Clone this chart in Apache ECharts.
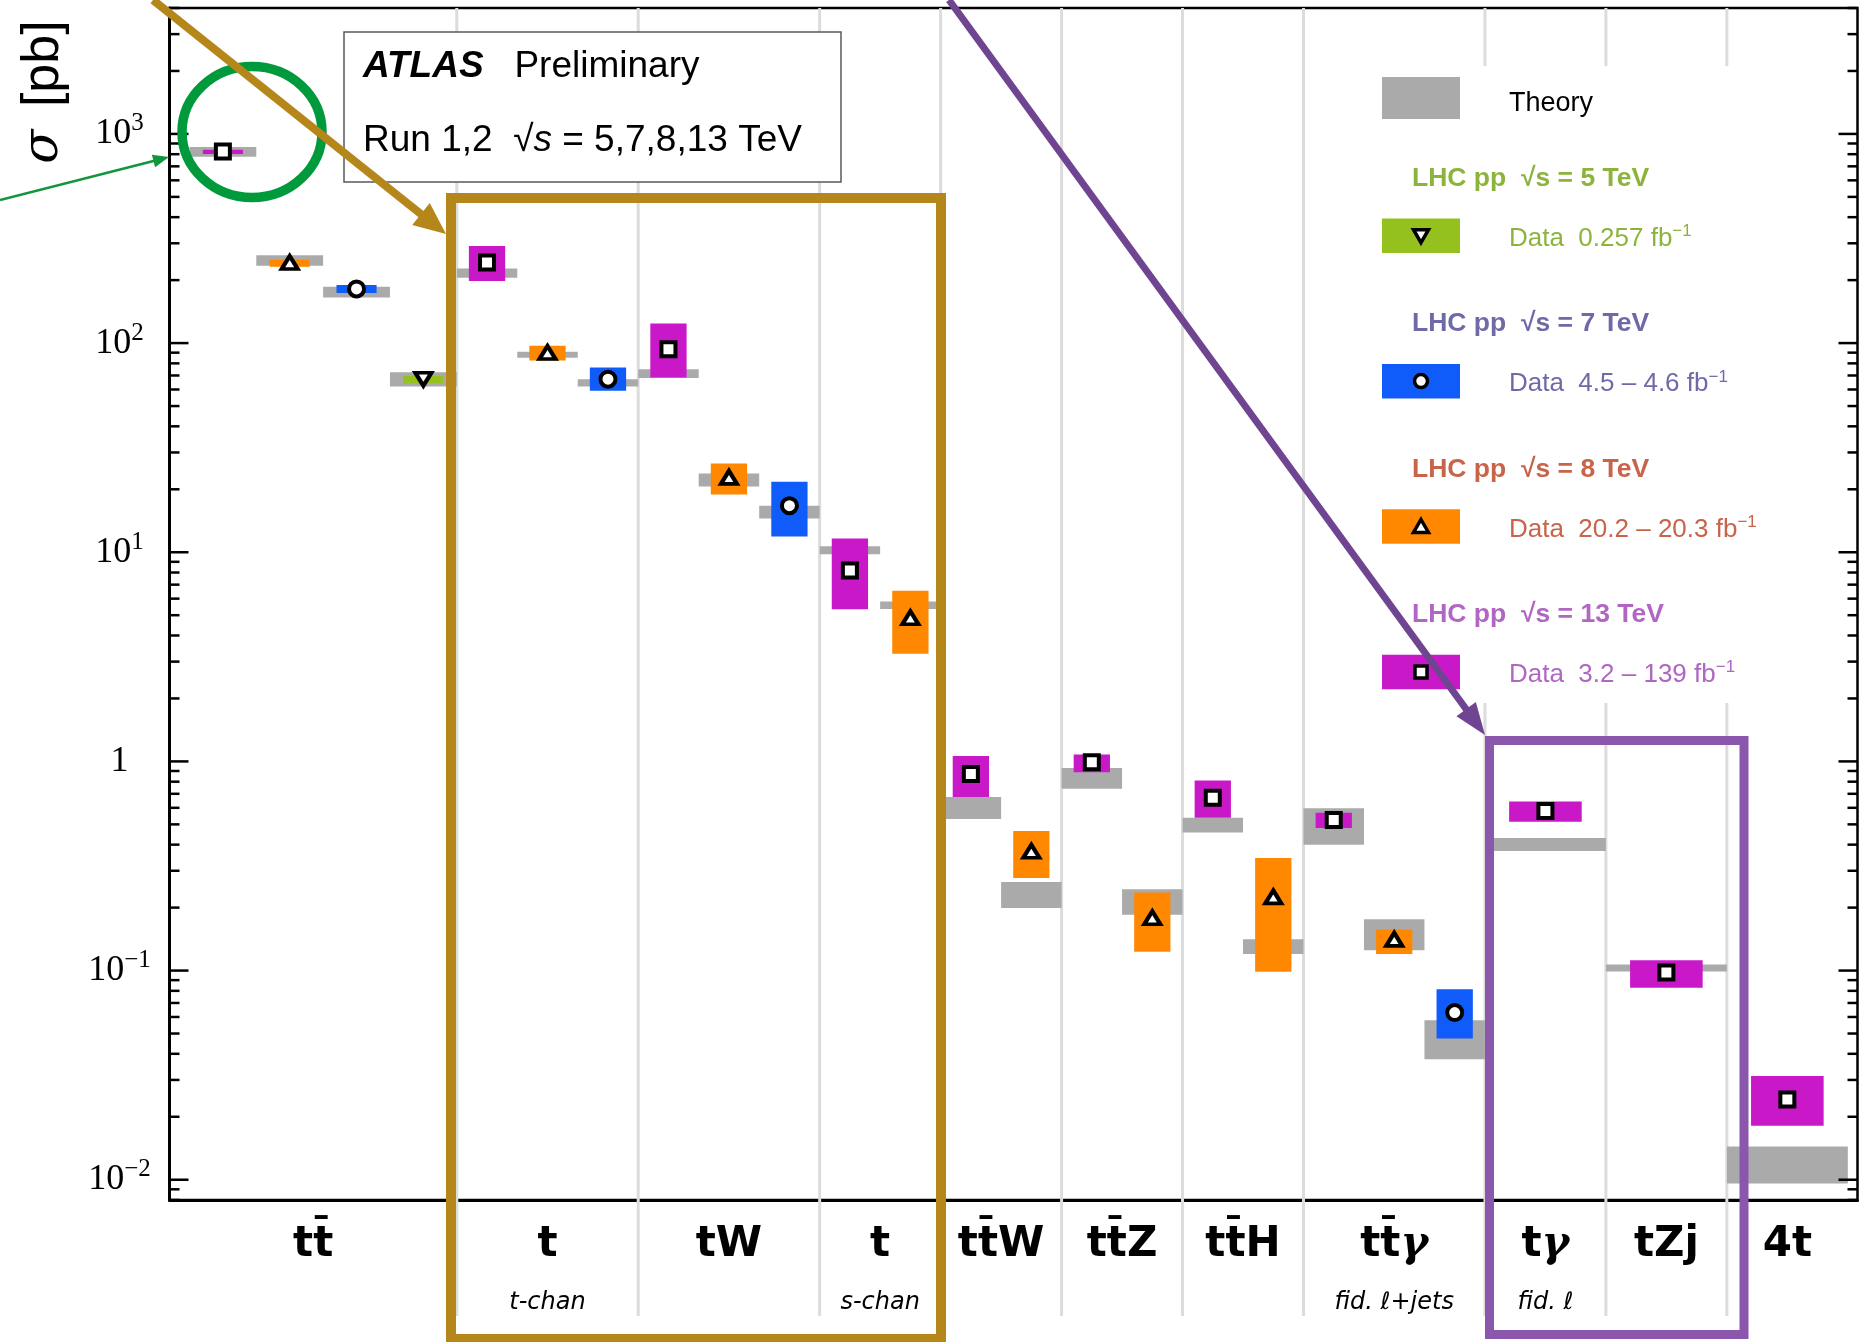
<!DOCTYPE html>
<html>
<head>
<meta charset="utf-8">
<title>Top quark production cross sections</title>
<script src="https://cdn.jsdelivr.net/npm/echarts@6/dist/echarts.min.js"></script>
<style>
  html, body { margin: 0; padding: 0; background: #fff; }
  #chart { width: 1859px; height: 1342px; }
</style>
</head>
<body>
<div id="chart"></div>
<script>
// processes along the x axis
const processes = ['tt̄', 't', 'tW', 't', 'tt̄W', 'tt̄Z', 'tt̄H', 'tt̄γ', 'tγ', 'tZj', '4t'];
const processNotes = ['', 't-chan', '', 's-chan', '', '', '', 'fid. ℓ+jets', 'fid. ℓ', '', ''];
// column boundaries in slot units (one slot = one energy)
const columnEdges = [0, 4.75, 7.75, 10.75, 12.75, 14.75, 16.75, 18.75, 21.75, 23.75, 25.75, 27.75];

// 13 TeV : process index, measured sigma [pb], data band, theory band
const proc13 = [0, 1, 2, 3, 4, 5, 6, 7, 8, 9, 10];
const sigma13 = [823, 243, 93.5, 8.17, 0.87, 0.99, 0.671, 0.524, 0.58, 0.098, 0.0242];
const lo13 = [802, 198, 68.4, 5.34, 0.675, 0.888, 0.538, 0.48, 0.514, 0.0828, 0.0181];
const hi13 = [841, 291, 124, 11.65, 1.06, 1.08, 0.81, 0.568, 0.644, 0.112, 0.0313];
const thLo13 = [778, 205.5, 68, 9.77, 0.53, 0.74, 0.457, 0.399, 0.373, 0.099, 0.0096];
const thHi13 = [865, 227, 75, 10.67, 0.675, 0.93, 0.538, 0.597, 0.43, 0.107, 0.0144];

// 8 TeV
const proc8 = [0, 1, 2, 3, 4, 5, 6, 7];
const sigma8 = [243, 90.1, 22.8, 4.86, 0.372, 0.179, 0.225, 0.141];
const lo8 = [231.6, 82.5, 18.9, 3.27, 0.277, 0.123, 0.0988, 0.12];
const hi8 = [250.5, 97, 26.6, 6.55, 0.465, 0.236, 0.345, 0.157];
const thLo8 = [234, 85, 20.6, 5.36, 0.199, 0.185, 0.12, 0.125];
const thHi8 = [263, 91, 23.8, 5.81, 0.265, 0.245, 0.141, 0.176];

// 7 TeV
const proc7 = [0, 1, 2, 7];
const sigma7 = [181.5, 67.2, 16.7, 0.063];
const lo7 = [173.8, 59.1, 11.9, 0.0474];
const hi7 = [189.7, 76.4, 21.7, 0.0814];
const thLo7 = [165, 62, 14.5, 0.0377];
const thHi7 = [186.1, 67.2, 16.7, 0.0578];

// 5 TeV
const proc5 = [0];
const sigma5 = [67.2];
const lo5 = [64.1];
const hi5 = [69.7];
const thLo5 = [62];
const thHi5 = [72.6];

const X_MAX = 27.91;
const Y_MIN = 0.008, Y_MAX = 4000;
const TTBAR_PAD = 0.33;

const energies = [
  { proc: proc13, sigma: sigma13, lo: lo13, hi: hi13, thLo: thLo13, thHi: thHi13, color: '#c818c8', symbol: 'rect', size: [14, 14], rotate: 0 },
  { proc: proc8, sigma: sigma8, lo: lo8, hi: hi8, thLo: thLo8, thHi: thHi8, color: '#ff8800', symbol: 'triangle', size: [16, 13], rotate: 0 },
  { proc: proc7, sigma: sigma7, lo: lo7, hi: hi7, thLo: thLo7, thHi: thHi7, color: '#105cfa', symbol: 'circle', size: 15, rotate: 0 },
  { proc: proc5, sigma: sigma5, lo: lo5, hi: hi5, thLo: thLo5, thHi: thHi5, color: '#95c11f', symbol: 'triangle', size: [16, 13], rotate: 180 }
];

// slot of each measurement inside its column (13, 8, 7, 5 TeV from left to right)
const slotCount = processes.map(() => 0);
energies.forEach(e => { e.slot = e.proc.map(p => slotCount[p]++); });

function slotRange(p, s) {
  const pad = p === 0 ? TTBAR_PAD : 0;
  const w = (columnEdges[p + 1] - columnEdges[p] - pad) / slotCount[p];
  const x0 = columnEdges[p] + pad + s * w;
  return [x0, x0 + w];
}

const theoryData = [];
energies.forEach(e => {
  e.boxes = [];
  e.points = [];
  e.proc.forEach((p, i) => {
    const r = slotRange(p, e.slot[i]);
    const c = (r[0] + r[1]) / 2, hw = 0.3 * (r[1] - r[0]);
    theoryData.push([r[0], r[1], e.thLo[i], e.thHi[i]]);
    e.boxes.push([c - hw, c + hw, e.lo[i], e.hi[i]]);
    e.points.push([c, e.sigma[i]]);
  });
});

// y axis ticks, 1..9 per decade
const tickValues = [];
for (let k = -3; k <= 3; k++) {
  for (let m = 1; m <= 9; m++) {
    const v = m * Math.pow(10, k);
    if (v >= Y_MIN * 0.999 && v <= Y_MAX) tickValues.push([0, v, m === 1 ? 1 : 0]);
  }
}
const innerEdges = columnEdges.slice(1, -1).map(e => [e, 1]);
const labelCenters = processes.map((_, i) => (columnEdges[i] + columnEdges[i + 1]) / 2);

function renderBox(params, api) {
  const a = api.coord([api.value(0), api.value(3)]);
  const b = api.coord([api.value(1), api.value(2)]);
  return {
    type: 'rect',
    shape: { x: a[0], y: a[1], width: b[0] - a[0], height: b[1] - a[1] },
    style: { fill: api.visual('color') }
  };
}

function renderTick(params, api) {
  const v = api.value(1);
  const len = api.value(2) ? 19 : 10;
  const L = api.coord([0, v]);
  const R = api.coord([X_MAX, v]);
  const st = { stroke: '#000', lineWidth: 2.5 };
  return {
    type: 'group',
    children: [
      { type: 'line', shape: { x1: L[0], y1: L[1], x2: L[0] + len, y2: L[1] }, style: st },
      { type: 'line', shape: { x1: R[0], y1: R[1], x2: R[0] - len, y2: R[1] }, style: st }
    ]
  };
}

function renderColumnLine(params, api) {
  const top = api.coord([api.value(0), Y_MAX]);
  const bottom = api.coord([api.value(0), Y_MIN]);
  return {
    type: 'line',
    shape: { x1: top[0], y1: top[1], x2: top[0], y2: bottom[1] + 116 },
    style: { stroke: '#dcdcdc', lineWidth: 3 }
  };
}

const series = [
  { type: 'custom', name: 'columns', z: 1, clip: false, silent: true, renderItem: renderColumnLine,
    encode: { x: 0, y: 1 }, data: innerEdges },
  { type: 'custom', name: 'Theory', z: 2, clip: false, renderItem: renderBox,
    itemStyle: { color: '#aaaaaa' }, encode: { x: [0, 1], y: [2, 3] }, data: theoryData },
  { type: 'custom', name: 'ticks', z: 5, clip: false, silent: true, renderItem: renderTick,
    encode: { x: 0, y: 1 }, data: tickValues }
];
energies.forEach(e => {
  series.push({ type: 'custom', z: 3, clip: false, renderItem: renderBox,
    itemStyle: { color: e.color }, encode: { x: [0, 1], y: [2, 3] }, data: e.boxes });
  series.push({ type: 'scatter', z: 4, symbol: e.symbol, symbolSize: e.size, symbolRotate: e.rotate,
    itemStyle: { color: '#fff', borderColor: '#000', borderWidth: 4, opacity: 1 }, data: e.points });
});

function arrow(x1, y1, x2, y2, color, width, headLen, headHalf, z) {
  const dx = x2 - x1, dy = y2 - y1, len = Math.hypot(dx, dy);
  const ux = dx / len, uy = dy / len;
  const bx = x2 - ux * headLen, by = y2 - uy * headLen;
  return [
    { type: 'line', z, shape: { x1, y1, x2: bx + ux * 2, y2: by + uy * 2 }, style: { stroke: color, lineWidth: width } },
    { type: 'polygon', z, shape: { points: [[x2, y2], [bx - uy * headHalf, by + ux * headHalf], [bx + uy * headHalf, by - ux * headHalf]] },
      style: { fill: color } }
  ];
}

function legendMark(kind, cx, cy) {
  const st = { fill: '#fff', stroke: '#000', lineWidth: 3.5 };
  if (kind === 'square') return { type: 'rect', z: 12, shape: { x: cx - 6, y: cy - 6, width: 12, height: 12 }, style: st };
  if (kind === 'circle') return { type: 'circle', z: 12, shape: { cx, cy, r: 6.5 }, style: st };
  if (kind === 'up') return { type: 'polygon', z: 12, shape: { points: [[cx, cy - 7], [cx + 7.5, cy + 6], [cx - 7.5, cy + 6]] }, style: st };
  return { type: 'polygon', z: 12, shape: { points: [[cx, cy + 7], [cx + 7.5, cy - 6], [cx - 7.5, cy - 6]] }, style: st };
}

function text(x, y, str, rich, extra) {
  return Object.assign({
    type: 'text', z: 12, x, y,
    style: { text: str, rich, textAlign: 'left', textVerticalAlign: 'middle', align: 'left', verticalAlign: 'middle' }
  }, extra || {});
}

// rich style helper: graphic text wants fill, axis labels want color
function rs(font, size, color, more) {
  return Object.assign({ fontFamily: font, fontSize: size, fill: color, color: color }, more || {});
}

const legendRows = [
  { head: '5', lumi: '0.257 fb', color: '#8cb43c', swatch: '#95c11f', mark: 'down' },
  { head: '7', lumi: '4.5 – 4.6 fb', color: '#6e6aa8', swatch: '#105cfa', mark: 'circle' },
  { head: '8', lumi: '20.2 – 20.3 fb', color: '#c8644a', swatch: '#ff8800', mark: 'up' },
  { head: '13', lumi: '3.2 – 139 fb', color: '#b066c2', swatch: '#c818c8', mark: 'square' }
];

const sansFont = 'Liberation Sans, Arial, sans-serif';
const graphics = [];
// white legend area hiding the column lines
graphics.push({ type: 'rect', z: 10, shape: { x: 1340, y: 66, width: 498, height: 637 }, style: { fill: '#fff' } });
graphics.push({ type: 'rect', z: 12, shape: { x: 1382, y: 77, width: 78, height: 42 }, style: { fill: '#aaaaaa' } });
graphics.push(text(1509, 104, '{t|Theory}', { t: rs(sansFont, 27, '#000') }));
legendRows.forEach((r, i) => {
  const dy = i * 145.4;
  graphics.push(text(1412, 178.6 + dy, '{h|LHC pp  √s = ' + r.head + ' TeV}',
    { h: rs(sansFont, 26.5, r.color, { fontWeight: 'bold' }) }));
  graphics.push({ type: 'rect', z: 12, shape: { x: 1382, y: 218.5 + dy, width: 78, height: 34.5 }, style: { fill: r.swatch } });
  graphics.push(legendMark(r.mark, 1421, 235.7 + dy));
  graphics.push(text(1509, 238.6 + dy, '{d|Data  ' + r.lumi + '}{u|−1}',
    { d: rs(sansFont, 26, r.color),
      u: rs(sansFont, 17, r.color, { padding: [0, 0, 14, 0] }) }));
});

// ATLAS label box
graphics.push({ type: 'rect', z: 10, shape: { x: 344, y: 32, width: 497, height: 150 }, style: { fill: '#fff', stroke: '#5a5a5a', lineWidth: 1.5 } });
graphics.push(text(363, 67, '{a|ATLAS}{p|   Preliminary}', {
  a: rs(sansFont, 37, '#000', { fontWeight: 'bold', fontStyle: 'italic' }),
  p: rs(sansFont, 37, '#000')
}));
graphics.push(text(363, 140.5, '{p|Run 1,2  √}{i|s}{p| = 5,7,8,13 TeV}', {
  p: rs(sansFont, 37, '#000'),
  i: rs(sansFont, 37, '#000', { fontStyle: 'italic' })
}));

// y axis title
graphics.push({
  type: 'text', z: 12, x: 44, y: 92, rotation: Math.PI / 2,
  style: {
    text: '{s|σ}{p| [pb]}',
    rich: {
      s: rs('DejaVu Serif', 50, '#000', { fontStyle: 'italic', padding: [0, 8, 0, 0] }),
      p: rs(sansFont, 52, '#000')
    },
    textAlign: 'center', textVerticalAlign: 'middle', align: 'center', verticalAlign: 'middle'
  }
});

// annotations
graphics.push({ type: 'ellipse', z: 20, shape: { cx: 252, cy: 132, rx: 70, ry: 65.5 }, style: { fill: null, stroke: '#009a3c', lineWidth: 9.5 } });
arrow(0, 200, 169, 157, '#12963c', 2.5, 16, 6.5, 20).forEach(g => graphics.push(g));
graphics.push({ type: 'rect', z: 20, shape: { x: 451, y: 198, width: 490, height: 1141 }, style: { fill: null, stroke: '#b5871a', lineWidth: 10 } });
arrow(153, 0, 446, 234, '#b5871a', 8, 32, 14, 21).forEach(g => graphics.push(g));
graphics.push({ type: 'rect', z: 20, shape: { x: 1489.5, y: 740.5, width: 254.5, height: 594 }, style: { fill: null, stroke: '#8a57ad', lineWidth: 9 } });
arrow(949, 0, 1485, 735, '#6f4592', 7, 32, 12, 21).forEach(g => graphics.push(g));

const chart = echarts.init(document.getElementById('chart'), null, { renderer: 'canvas' });
chart.setOption({
  backgroundColor: '#fff',
  animation: false,
  grid: { left: 169.5, right: 1.5, top: 8, bottom: 142, show: true, borderColor: '#000', borderWidth: 2.5 },
  xAxis: {
    type: 'value', min: 0, max: X_MAX,
    axisLine: { show: true, lineStyle: { color: '#000', width: 3 } },
    axisTick: { show: false },
    splitLine: { show: false },
    axisLabel: {
      customValues: labelCenters,
      margin: 20,
      formatter: function (value) {
        const i = labelCenters.findIndex(c => Math.abs(c - value) < 1e-6);
        if (i < 0) return '';
        const parts = processes[i].split('γ');
        let s = '';
        parts.forEach((part, j) => {
          if (part) s += '{m|' + part + '}';
          if (j < parts.length - 1) s += '{g|γ}';
        });
        if (processNotes[i]) s += '\n{s|' + processNotes[i] + '}';
        return s;
      },
      rich: {
        m: { fontFamily: 'DejaVu Sans', fontWeight: 'bold', fontSize: 42, lineHeight: 50, color: '#000' },
        g: { fontFamily: 'DejaVu Serif', fontWeight: 'bold', fontStyle: 'italic', fontSize: 42, lineHeight: 50, color: '#000' },
        s: { fontFamily: 'DejaVu Sans', fontStyle: 'italic', fontSize: 24, lineHeight: 66, color: '#000' }
      }
    }
  },
  yAxis: {
    type: 'log', logBase: 10, min: Y_MIN, max: Y_MAX,
    axisLine: { show: true, lineStyle: { color: '#000', width: 3 } },
    axisTick: { show: false },
    splitLine: { show: false },
    axisLabel: {
      showMinLabel: false, showMaxLabel: false,
      margin: 50, align: 'center',
      formatter: function (value) {
        const k = Math.round(Math.log10(value));
        if (Math.abs(Math.log10(value) - k) > 1e-6) return '';
        if (k === 0) return '{b|1}';
        return '{b|10}{s|' + (k < 0 ? '−' + (-k) : k) + '}';
      },
      rich: {
        b: { fontFamily: 'Liberation Serif', fontSize: 36, lineHeight: 36, color: '#000' },
        s: { fontFamily: 'Liberation Serif', fontSize: 25, lineHeight: 25, padding: [0, 0, 20, 0], color: '#000' }
      }
    }
  },
  series: series,
  graphic: { elements: graphics }
});
</script>
</body>
</html>
